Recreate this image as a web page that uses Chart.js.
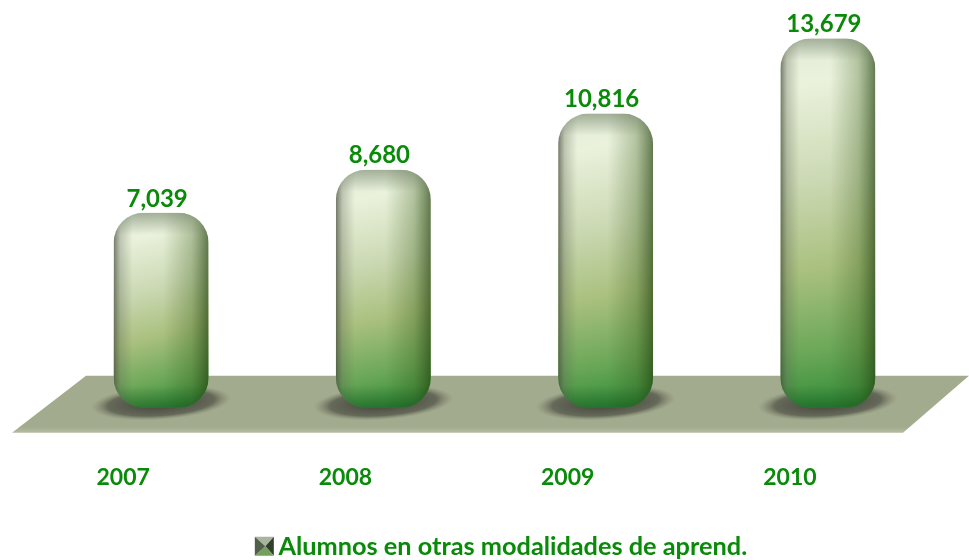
<!DOCTYPE html>
<html><head><meta charset="utf-8">
<style>html,body{margin:0;padding:0;background:#fff}canvas{display:block}</style>
<script src="https://cdn.jsdelivr.net/npm/chart.js@4/dist/chart.umd.min.js"></script>
</head><body><canvas id="c" width="969" height="560"></canvas>
<script>
const categories = ["2007","2008","2009","2010"];
const seriesValues = [7039,8680,10816,13679];
const seriesName = "Alumnos en otras modalidades de aprend.";
const axisMin = -382, axisMax = 14000;
const GREEN = "#098a09";
const FONT = "Lato, Carlito, sans-serif";

function barFill(ctx){
  const chart=ctx.chart, c=chart.ctx;
  if(ctx.type!=="data"||!chart.scales.y||!chart.chartArea) return "#8fb070";
  const y=chart.scales.y.getPixelForValue(ctx.raw), x=chart.scales.x.getPixelForValue(ctx.dataIndex);
  const g = c.createLinearGradient(x-26,y,x+26,chart.chartArea.bottom);
  g.addColorStop(0,"#e2ebd6"); g.addColorStop(0.12,"#eaf2dc");
  g.addColorStop(0.38,"#ccd9b4"); g.addColorStop(0.62,"#a9c07e");
  g.addColorStop(0.84,"#6aa757"); g.addColorStop(1,"#2f8c38");
  return g;
}
const scene = {
  id:"scene",
  afterLayout(chart){ const l=chart.legend; l.left+=7; l.right+=7; l.top+=27; l.bottom+=27; },
  beforeDatasetsDraw(chart){
    const {ctx,chartArea:a} = chart;
    const top=a.bottom-32, bot=a.bottom+25;
    ctx.save();
    const fg=ctx.createLinearGradient(0,top,0,bot);
    fg.addColorStop(0,"#a3ab8e");fg.addColorStop(0.9,"#a3ab8e");fg.addColorStop(1,"#b4bba3");
    ctx.fillStyle=fg;
    ctx.beginPath();ctx.moveTo(86,top);ctx.lineTo(969,top);ctx.lineTo(903,bot);ctx.lineTo(12,bot);ctx.closePath();ctx.fill();
    chart.getDatasetMeta(0).data.forEach(b=>{
      ctx.save();
      ctx.translate(b.x,a.bottom-5);ctx.rotate(-0.07);ctx.scale(b.width*0.74,17);
      const r=ctx.createRadialGradient(0,0,0.2,0,0,1);
      r.addColorStop(0,"rgba(62,64,56,0.92)");r.addColorStop(0.7,"rgba(78,80,68,0.72)");r.addColorStop(1,"rgba(120,125,105,0)");
      ctx.fillStyle=r;ctx.beginPath();ctx.arc(0,0,1,0,Math.PI*2);ctx.fill();
      ctx.restore();
    });
    ctx.restore();
  },
  afterDatasetsDraw(chart){
    const {ctx} = chart;
    ctx.save();
    chart.getDatasetMeta(0).data.forEach((b,i)=>{
      const w=b.width,l=b.x-w/2,t=b.y,bt=b.base;
      ctx.save();
      ctx.beginPath();ctx.roundRect(l,t,w,bt-t,30);ctx.clip();
      const h=ctx.createLinearGradient(l,0,l+w,0);
      h.addColorStop(0,"rgba(70,75,62,0.72)");h.addColorStop(0.07,"rgba(90,98,82,0.3)");h.addColorStop(0.2,"rgba(90,98,82,0)");
      h.addColorStop(0.52,"rgba(60,90,30,0)");h.addColorStop(0.82,"rgba(55,90,25,0.3)");h.addColorStop(1,"rgba(35,65,15,0.68)");
      ctx.fillStyle=h;ctx.fillRect(l,t,w,bt-t);
      const v=ctx.createLinearGradient(0,t,0,t+22);
      v.addColorStop(0,"rgba(110,125,100,0.55)");v.addColorStop(1,"rgba(110,125,100,0)");
      ctx.fillStyle=v;ctx.fillRect(l,t,w,22);
      const u=ctx.createLinearGradient(0,bt-22,0,bt);
      u.addColorStop(0,"rgba(10,70,20,0)");u.addColorStop(1,"rgba(10,70,20,0.4)");
      ctx.fillStyle=u;ctx.fillRect(l,bt-22,w,22);
      ctx.restore();
      ctx.fillStyle=GREEN;ctx.font="bold 24px "+FONT;ctx.textAlign="center";ctx.textBaseline="middle";
      ctx.fillText(seriesValues[i].toLocaleString("en-US"),b.x-4,b.y-14);
    });
    ctx.restore();
  },
  afterDraw(chart){
    const {ctx}=chart, hb=chart.legend.legendHitBoxes[0];
    if(!hb) return;
    const s=19, x=hb.left-1, y=hb.top+hb.height/2-9.5, mx=x+s/2+1, my=y+s/2;
    const tri=(ax,ay,bx,by,col)=>{ctx.fillStyle=col;ctx.beginPath();ctx.moveTo(ax,ay);ctx.lineTo(bx,by);ctx.lineTo(mx,my);ctx.closePath();ctx.fill();};
    tri(x,y,x+s,y,"#a9b49c");
    tri(x+s,y,x+s,y+s,"#2f3f2c");
    tri(x+s,y+s,x,y+s,"#74a05c");
    tri(x,y+s,x,y,"#4f5f4a");
  }
};
new Chart(document.getElementById("c"),{
  type:"bar",
  plugins:[scene],
  data:{labels:categories,datasets:[{label:seriesName,data:seriesValues,base:axisMin,
    backgroundColor:barFill,borderWidth:0,borderRadius:30,borderSkipped:false,
    barPercentage:0.427,categoryPercentage:1}]},
  options:{
    responsive:false,animation:false,
    layout:{padding:{left:50,right:30,top:30,bottom:18}},
    scales:{
      y:{display:false,min:axisMin,max:axisMax},
      x:{grid:{display:false},border:{display:false},afterFit(s){s.height=91;},
         ticks:{color:GREEN,font:{family:FONT,weight:"bold",size:23},padding:48,labelOffset:-38,maxRotation:0}}
    },
    plugins:{
      tooltip:{enabled:false},
      legend:{position:"bottom",
        labels:{color:GREEN,font:{family:FONT,weight:"bold",size:25.3},boxWidth:10,boxHeight:15,padding:8,
          generateLabels(chart){
            return [{text:seriesName,fillStyle:"rgba(0,0,0,0)",strokeStyle:"rgba(0,0,0,0)",lineWidth:0,fontColor:GREEN,datasetIndex:0}];
          }}}
    }
  }
});
</script></body></html>
